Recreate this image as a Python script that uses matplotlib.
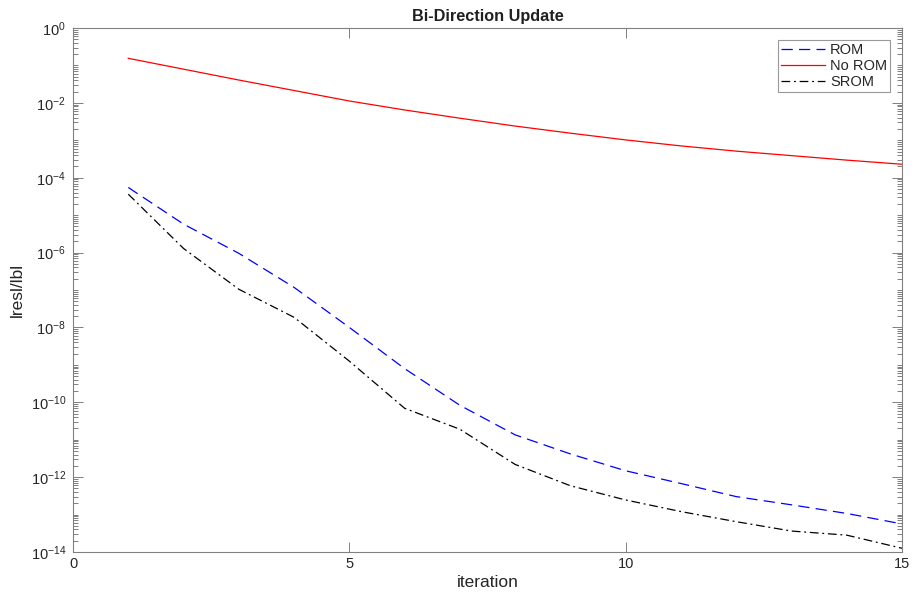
import matplotlib
matplotlib.use("Agg")
import matplotlib.pyplot as plt
import numpy as np
from matplotlib.ticker import FixedLocator, FixedFormatter

plt.rcParams['font.family'] = ['Liberation Sans', 'DejaVu Sans']
plt.rcParams['mathtext.fontset'] = 'custom'
plt.rcParams['mathtext.rm'] = 'Liberation Sans'

# values (log10 of |res|/|b|)
iteration = [1, 2, 3, 4, 5, 6, 7, 8, 9, 10, 11, 12, 13, 14, 15]
rom_log = [-4.26, -5.24, -6.02, -6.93, -8.0, -9.1, -10.08, -10.87,
           -11.38, -11.83, -12.17, -12.52, -12.74, -12.97, -13.25]
norom_log = [-0.81, -1.10, -1.39, -1.67, -1.95, -2.19, -2.41, -2.62,
             -2.81, -2.99, -3.15, -3.29, -3.41, -3.53, -3.64]
srom_log = [-4.44, -5.89, -6.98, -7.73, -8.9, -10.16, -10.72, -11.66,
            -12.23, -12.61, -12.92, -13.19, -13.44, -13.55, -13.90]
decades = [0, -2, -4, -6, -8, -10, -12, -14]

rom = 10.0 ** np.array(rom_log)
norom = 10.0 ** np.array(norom_log)
srom = 10.0 ** np.array(srom_log)

fig = plt.figure(figsize=(9.14, 5.98), dpi=100)
ax = fig.add_axes([73 / 914, 1 - 552 / 598, (902 - 73) / 914, (552 - 28) / 598])

ax.plot(iteration, rom, color='#0000ff', lw=0.9, dashes=(9, 5), label='ROM')
ax.plot(iteration, norom, color='#ff0000', lw=0.9, label='No ROM')
ax.plot(iteration, srom, color='black', lw=0.9, dashes=(7, 3, 1.5, 3), label='SROM')

ax.set_yscale('log')
ax.set_xlim(0, 15)
ax.set_ylim(1e-14, 1e0)

major = [10.0 ** k for k in decades]
ax.yaxis.set_major_locator(FixedLocator(major))
ax.yaxis.set_major_formatter(FixedFormatter(['$\\mathregular{10^{%s}}$' % ('-' + str(-k) if k else '0') for k in decades]))
minor = [m * 10.0 ** k for k in range(-14, 0) for m in range(1, 10)]
minor = [v for v in minor if v not in major]
ax.yaxis.set_minor_locator(FixedLocator(minor))
ax.yaxis.set_minor_formatter(FixedFormatter([]))
ax.set_xticks([0, 5, 10, 15])

ax.tick_params(which='both', direction='in', top=True, right=True,
               color='#808080', labelcolor='#262626', labelsize=10.5, width=0.7)
ax.tick_params(which='major', length=7.5)
ax.tick_params(which='minor', length=3.5)
ax.tick_params(axis='y', pad=5)
for s in ax.spines.values():
    s.set_color('#808080')
    s.set_linewidth(0.8)

ax.set_title('Bi-Direction Update', fontsize=11.7, fontweight='bold', color='#202020', pad=5)
ax.set_xlabel('iteration', fontsize=12.5, color='#262626', labelpad=3)
ax.set_ylabel('lresl/lbl', fontsize=12.5, color='#262626', labelpad=4)

leg = ax.legend(loc='upper right', bbox_to_anchor=(0.9855, 0.9765), fontsize=10.5,
                frameon=True, fancybox=False, handlelength=3.0, handletextpad=0.35,
                borderpad=0.2, labelspacing=0.12, borderaxespad=0)
leg.get_frame().set_edgecolor('#808080')
leg.get_frame().set_linewidth(0.8)
for t in leg.get_texts():
    t.set_color('#262626')

plt.savefig('out.png', dpi=100)
